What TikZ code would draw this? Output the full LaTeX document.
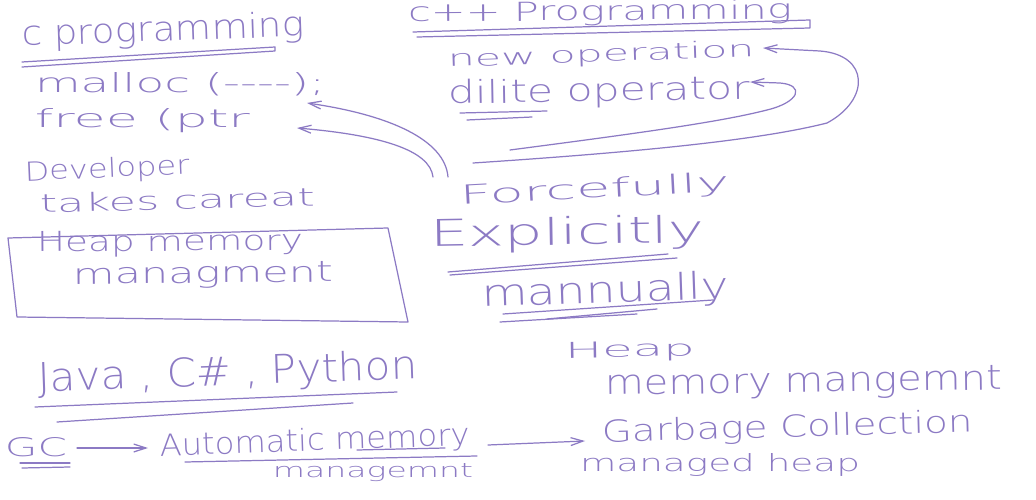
\documentclass[tikz,border=0pt]{standalone}
\usepackage{fontspec}
\usepackage{graphicx}
\usetikzlibrary{arrows.meta}
\newfontfamily\hand{DejaVu Sans ExtraLight}
\definecolor{ink}{RGB}{140,122,196}
\newlength\pxu
\setlength\pxu{0.02cm}
\newcommand\hw[3]{\resizebox{#1\pxu}{#2\pxu}{#3}}
\tikzset{
  tx/.style={anchor=base west, inner sep=0pt, outer sep=0pt, text=ink, font=\hand},
  pen/.style={draw=ink, line width=0.7pt, line cap=round, line join=round},
  arr/.style={pen, -{Straight Barb[length=7pt,width=4.5pt]}},
}
\begin{document}
\begin{tikzpicture}[x=0.02cm,y=-0.02cm]
\fill[white] (0,0) rectangle (1036,500);
\useasboundingbox (0,0) rectangle (1036,500);

% ---- C programming block
\node[tx, rotate=2] (cprog) at (22,46) {\hw{283}{26}{c programming}};
\draw[pen] (22,62) -- (275,47) -- (275,51) -- (22,67);
\node[tx] (malloc) at (35,92) {\hw{290}{20}{malloc (----);}};
\node[tx] (free) at (35,128) {\hw{215}{19}{free (ptr}};
\node[tx, rotate=2.5] (dev) at (25,181) {\hw{165}{20}{Developer}};
\node[tx, rotate=1.5] (takes) at (40,213) {\hw{275}{19}{takes careat}};

% heap box
\draw[pen] (8,238) -- (388,228) -- (408,322) -- (17,317) -- cycle;
\node[tx, rotate=0.5] (heapmem) at (37,252) {\hw{266}{20}{Heap memory}};
\node[tx, rotate=0.5] (manag) at (73,284) {\hw{260}{20}{managment}};

% ---- C++ block
\node[tx, rotate=0.5] (cpp) at (408,22) {\hw{384}{20}{c++ Programming}};
\draw[pen] (413,32) -- (810,20) -- (810,28) -- (417,37);
\node[tx, rotate=2] (newop) at (448,67) {\hw{307}{17}{new operation}};
\node[tx, rotate=1] (delop) at (448,104) {\hw{302}{24}{dilite operator}};
\draw[pen] (460,113) -- (547,111);
\draw[pen] (467,120) -- (532,117);

% ---- middle words
\node[tx, rotate=3] (force) at (460,205) {\hw{270}{20}{Forcefully}};
\node[tx, rotate=1] (expl) at (430,247) {\hw{275}{28}{Explicitly}};
\draw[pen] (448,272) -- (668,254);
\draw[pen] (450,275) -- (677,258);
\node[tx, rotate=2] (manu) at (482,307) {\hw{248}{28}{mannually}};
\draw[pen] (503,314) -- (713,300);
\draw[pen] (500,322) -- (637,314);
\draw[pen] (547,319) -- (657,309);

% connectors from the middle words to the operations
\coordinate (fa) at (448,177);
\coordinate (fb) at (433,177);
\coordinate (ha) at (307,103);
\coordinate (hb) at (297,128);
\draw[arr] (fa) .. controls (445,140) and (390,115) .. (ha);
\draw[arr] (fb) .. controls (430,150) and (380,135) .. (hb);

\coordinate (ca) at (473,163);
\coordinate (cb) at (510,150);
\coordinate (hn) at (763,48);
\coordinate (hd) at (750,82);
\draw[arr] (ca) .. controls (640,152) and (760,140) .. (827,123)
  .. controls (870,100) and (870,55) .. (820,51) -- (hn);
\draw[arr] (cb) .. controls (640,133) and (720,122) .. (767,110)
  .. controls (800,102) and (805,85) .. (780,83) -- (hd);

% ---- bottom
\node[tx, rotate=2] (java) at (38,392) {\hw{380}{30}{Java , C\# , Python}};
\draw[pen] (35,407) -- (397,392);
\draw[pen] (57,422) -- (353,403);

\node[tx] (gc) at (5,457) {\hw{62}{19}{GC}};
\draw[pen] (20,463) -- (70,463);
\draw[pen] (22,468) -- (70,467);
\node[tx, rotate=2] (auto) at (160,456) {\hw{310}{23}{Automatic memory}};
\draw[pen] (185,462) -- (477,456);
\draw[pen] (357,450) -- (445,448);
\node[tx] (autom) at (273,478) {\hw{200}{14}{managemnt}};

\coordinate (g1) at (77,448);
\coordinate (g2) at (148,448);
\draw[arr] (g1) -- (g2);
\coordinate (a1) at (488,445);
\coordinate (a2) at (585,441);
\draw[arr] (a1) -- (a2);

\node[tx, rotate=1] (heap2) at (565,358) {\hw{130}{16}{Heap}};
\node[tx, rotate=0.8] (memmg) at (605,395) {\hw{397}{24}{memory mangemnt}};
\node[tx, rotate=1.5] (garb) at (602,442) {\hw{371}{23}{Garbage Collection}};
\node[tx] (mheap) at (580,471) {\hw{280}{18}{managed heap}};
\end{tikzpicture}
\end{document}
